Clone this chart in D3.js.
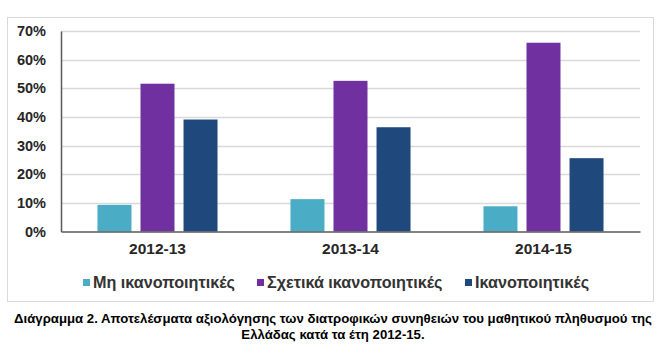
<!DOCTYPE html>
<html><head><meta charset="utf-8">
<script src="https://cdn.jsdelivr.net/npm/d3@7"></script>
<style>body{margin:0;background:#fff}svg{display:block}text{font-family:"Liberation Sans",Arial,sans-serif}</style>
</head><body>
<script>
const categories = ["2012-13", "2013-14", "2014-15"];
const seriesNames = ["Μη ικανοποιητικές", "Σχετικά ικανοποιητικές", "Ικανοποιητικές"];
const seriesColors = ["#4bacc6", "#7030a0", "#1f497d"];
const notSatisfactory = [9.3, 11.3, 8.8];
const fairlySatisfactory = [51.6, 52.6, 65.9];
const satisfactory = [39.1, 36.4, 25.6];
const yTicks = [0, 10, 20, 30, 40, 50, 60, 70];
const captionLines = ["Διάγραμμα 2. Αποτελέσματα αξιολόγησης των διατροφικών συνηθειών του μαθητικού πληθυσμού της", "Ελλάδας κατά τα έτη 2012-15."];

const series = [notSatisfactory, fairlySatisfactory, satisfactory];
const W = 661, H = 353;
const m = {left: 61, right: 21, top: 31, bottom: 121.5};
const svg = d3.select("body").append("svg").attr("width", W).attr("height", H);

svg.append("rect").attr("x", 7.5).attr("y", 17.5).attr("width", 646).attr("height", 284)
  .attr("fill", "#fff").attr("stroke", "#d9d9d9");

const x0 = d3.scaleBand().domain(categories).range([m.left, W - m.right]).paddingInner(0.378).paddingOuter(0.189);
const x1 = d3.scaleBand().domain(d3.range(series.length)).range([0, x0.bandwidth()]).paddingInner(0.21);
const y = d3.scaleLinear().domain([0, 70]).range([H - m.bottom, m.top]);

// gridlines
svg.append("g").selectAll("line").data(yTicks.filter(d => d > 0)).join("line")
  .attr("x1", m.left).attr("x2", W - m.right)
  .attr("y1", d => Math.round(y(d)) + 0.5).attr("y2", d => Math.round(y(d)) + 0.5)
  .attr("stroke", "#d9d9d9").attr("stroke-width", 1.3);

// bars
const g = svg.append("g");
categories.forEach((c, i) => {
  series.forEach((s, j) => {
    g.append("rect")
      .attr("x", x0(c) + x1(j)).attr("width", x1.bandwidth())
      .attr("y", y(s[i])).attr("height", y(0) - y(s[i]))
      .attr("fill", seriesColors[j]);
  });
});

// y axis
const yAxis = svg.append("g").attr("transform", `translate(${m.left},0)`)
  .call(d3.axisLeft(y).tickValues(yTicks).tickFormat(d => d + "%").tickSize(0).tickPadding(15));
yAxis.select(".domain").attr("stroke", "#595959").attr("stroke-width", 1.5);
yAxis.selectAll("text").attr("font-size", "14.5px").attr("font-weight", "bold").attr("fill", "#262626")
  .attr("font-family", '"Liberation Sans",Arial,sans-serif');

// x axis
const xAxis = svg.append("g").attr("transform", `translate(0,${y(0)})`)
  .call(d3.axisBottom(x0).tickSize(0).tickPadding(11));
xAxis.select(".domain").attr("stroke", "#595959").attr("stroke-width", 1.5);
xAxis.selectAll("text").attr("font-size", "15.5px").attr("font-weight", "bold").attr("fill", "#262626")
  .attr("font-family", '"Liberation Sans",Arial,sans-serif');

// legend
const legendX = [83, 257, 465];
const leg = svg.append("g");
seriesNames.forEach((n, j) => {
  leg.append("rect").attr("x", legendX[j]).attr("y", 279).attr("width", 7).attr("height", 7).attr("fill", seriesColors[j]);
  leg.append("text").attr("x", legendX[j] + 10).attr("y", 288).attr("font-size", "16.2px").attr("font-weight", "bold")
    .attr("fill", "#333").text(n);
});

// caption
svg.append("g").selectAll("text").data(captionLines).join("text")
  .attr("x", 333).attr("y", (d, i) => 323 + i * 16).attr("text-anchor", "middle")
  .attr("font-size", "13.2px").attr("font-weight", "bold").attr("fill", "#000").text(d => d);
</script>
</body></html>
